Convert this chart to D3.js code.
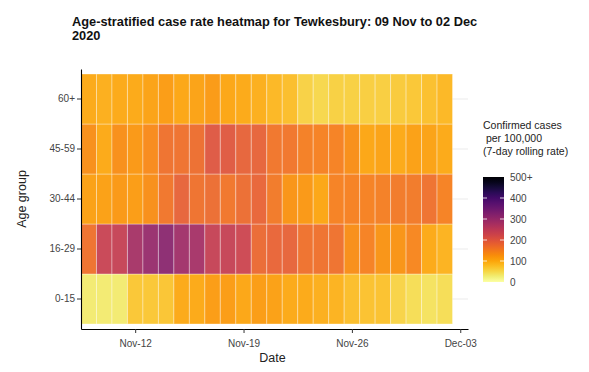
<!DOCTYPE html>
<html>
<head>
<meta charset="utf-8">
<script src="https://cdn.jsdelivr.net/npm/d3@7.9.0/dist/d3.min.js"></script>
<style>
  body { margin: 0; background: #fff; }
  svg { font-family: "Liberation Sans", Arial, sans-serif; }
</style>
</head>
<body>
<div id="chart"></div>
<script>
// dates (one column per day)
const dates = [
  '2020-11-09', '2020-11-10', '2020-11-11', '2020-11-12', '2020-11-13', '2020-11-14',
  '2020-11-15', '2020-11-16', '2020-11-17', '2020-11-18', '2020-11-19', '2020-11-20',
  '2020-11-21', '2020-11-22', '2020-11-23', '2020-11-24', '2020-11-25', '2020-11-26',
  '2020-11-27', '2020-11-28', '2020-11-29', '2020-11-30', '2020-12-01', '2020-12-02'
];

const ageGroups = ['0-15', '16-29', '30-44', '45-59', '60+'];

// 7-day rolling rate per 100,000, one array per age group
const rate0_15 = [30, 30, 30, 70, 70, 72, 100, 100, 115, 115, 105, 115,
  110, 100, 100, 95, 90, 80, 75, 75, 55, 45, 40, 45];
const rate16_29 = [165, 235, 240, 280, 300, 315, 288, 282, 240, 240, 230, 175,
  180, 185, 165, 165, 165, 130, 145, 125, 125, 140, 100, 90];
const rate30_44 = [110, 110, 120, 115, 130, 160, 185, 165, 170, 160, 170, 180,
  155, 125, 120, 105, 145, 145, 145, 150, 155, 155, 165, 145];
const rate45_59 = [130, 100, 130, 120, 135, 165, 165, 168, 200, 198, 185, 185,
  160, 160, 150, 145, 145, 130, 105, 108, 100, 110, 108, 100];
const rate60plus = [100, 95, 100, 100, 108, 115, 105, 108, 118, 105, 100, 95,
  85, 80, 58, 52, 60, 60, 62, 62, 65, 70, 78, 85];

const legendTicks = [0, 100, 200, 300, 400, 500];
const xTickDates = ['2020-11-12', '2020-11-19', '2020-11-26', '2020-12-03'];

const seriesByGroup = {
  '0-15': rate0_15,
  '16-29': rate16_29,
  '30-44': rate30_44,
  '45-59': rate45_59,
  '60+': rate60plus,
};

const parse = d3.utcParse('%Y-%m-%d');
const cells = [];
ageGroups.forEach((g) => {
  seriesByGroup[g].forEach((v, i) => {
    cells.push({ group: g, date: parse(dates[i]), value: v });
  });
});

const width = 589;
const height = 372;
const plot = { left: 81, right: 468, top: 69, bottom: 329 };

const svg = d3.select('#chart')
  .append('svg')
  .attr('width', width)
  .attr('height', height);

const x = d3.scaleUtc()
  .domain([d3.utcHour.offset(parse('2020-11-08'), 12), d3.utcHour.offset(parse('2020-12-03'), 12)])
  .range([plot.left, plot.right]);

const y = d3.scaleBand()
  .domain(ageGroups)
  .range([plot.bottom, plot.top])
  .paddingOuter(0.1)
  .paddingInner(0);

const color = d3.scaleSequential((t) => d3.interpolateInferno(1 - t))
  .domain([0, 500])
  .clamp(true);

// horizontal grid lines
svg.append('g')
  .selectAll('line')
  .data(ageGroups)
  .join('line')
  .attr('x1', plot.left)
  .attr('x2', plot.right)
  .attr('y1', (d) => y(d) + y.bandwidth() / 2)
  .attr('y2', (d) => y(d) + y.bandwidth() / 2)
  .attr('stroke', '#ebebeb')
  .attr('stroke-width', 1);

// tiles
const dayW = x(parse('2020-11-10')) - x(parse('2020-11-09'));
svg.append('g')
  .selectAll('rect')
  .data(cells)
  .join('rect')
  .attr('x', (d) => x(d.date) - dayW / 2)
  .attr('y', (d) => y(d.group))
  .attr('width', dayW)
  .attr('height', y.bandwidth())
  .attr('fill', (d) => color(d.value))
  .attr('fill-opacity', 0.93)
  .attr('stroke', 'rgba(255,255,255,0.35)')
  .attr('stroke-width', 1);

// axes
const xAxis = svg.append('g')
  .attr('transform', `translate(0,${plot.bottom})`)
  .call(d3.axisBottom(x)
    .tickValues(xTickDates.map(parse))
    .tickFormat(d3.utcFormat('%b-%d'))
    .tickSize(4)
    .tickSizeOuter(0));

const yAxis = svg.append('g')
  .attr('transform', `translate(${plot.left},0)`)
  .call(d3.axisLeft(y).tickSize(4).tickSizeOuter(0));

[xAxis, yAxis].forEach((a) => {
  a.select('.domain').attr('stroke', '#000').attr('stroke-width', 1.1);
  a.selectAll('.tick line').attr('stroke', '#333');
  a.selectAll('.tick text')
    .attr('fill', '#444')
    .style('font-size', '10px')
    .style('font-family', '"Liberation Sans", Arial, sans-serif');
});
xAxis.selectAll('.tick text').attr('dy', '1.05em');
yAxis.selectAll('.tick text').attr('x', -6);

// axis titles
svg.append('text')
  .attr('x', (plot.left + plot.right) / 2 - 2)
  .attr('y', 362)
  .attr('text-anchor', 'middle')
  .style('font-size', '12.5px')
  .attr('fill', '#222')
  .text('Date');

svg.append('text')
  .attr('transform', `translate(26,${(plot.top + plot.bottom) / 2}) rotate(-90)`)
  .attr('text-anchor', 'middle')
  .style('font-size', '12.5px')
  .attr('fill', '#222')
  .text('Age group');

// title
const title = svg.append('text')
  .attr('x', 72)
  .attr('y', 26)
  .style('font-size', '12.8px')
  .style('font-weight', 'bold')
  .attr('fill', '#111');
title.append('tspan').attr('x', 72).text('Age-stratified case rate heatmap for Tewkesbury: 09 Nov to 02 Dec');
title.append('tspan').attr('x', 72).attr('dy', 13.5).text('2020');

// legend
const legend = { x: 483, top: 177, bottom: 282, w: 21 };
const defs = svg.append('defs');
const grad = defs.append('linearGradient')
  .attr('id', 'legend-grad')
  .attr('x1', 0).attr('y1', 1).attr('x2', 0).attr('y2', 0);
d3.range(0, 1.001, 0.05).forEach((t) => {
  grad.append('stop')
    .attr('offset', t)
    .attr('stop-color', color(t * 500));
});

const ly = d3.scaleLinear().domain([0, 500]).range([legend.bottom, legend.top]);

svg.append('rect')
  .attr('x', legend.x)
  .attr('y', legend.top)
  .attr('width', legend.w)
  .attr('height', legend.bottom - legend.top)
  .attr('fill', 'url(#legend-grad)');

const innerTicks = legendTicks.slice(1, -1);
svg.append('g')
  .selectAll('path')
  .data(innerTicks)
  .join('path')
  .attr('d', (d) => `M${legend.x},${ly(d)}h4M${legend.x + legend.w - 4},${ly(d)}h4`)
  .attr('stroke', 'rgba(255,255,255,0.8)')
  .attr('stroke-width', 1);

svg.append('g')
  .selectAll('text')
  .data(legendTicks)
  .join('text')
  .attr('x', legend.x + legend.w + 6)
  .attr('y', (d) => ly(d))
  .attr('dy', '0.35em')
  .style('font-size', '10px')
  .attr('fill', '#444')
  .text((d) => (d === 500 ? '500+' : d));

const lt = svg.append('text')
  .style('font-size', '10.5px')
  .attr('fill', '#222');
['Confirmed cases', '\u00a0per 100,000', '(7-day rolling rate)'].forEach((s, i) => {
  lt.append('tspan')
    .attr('x', legend.x)
    .attr('y', 129 + i * 13)
    .text(s);
});
</script>
</body>
</html>
